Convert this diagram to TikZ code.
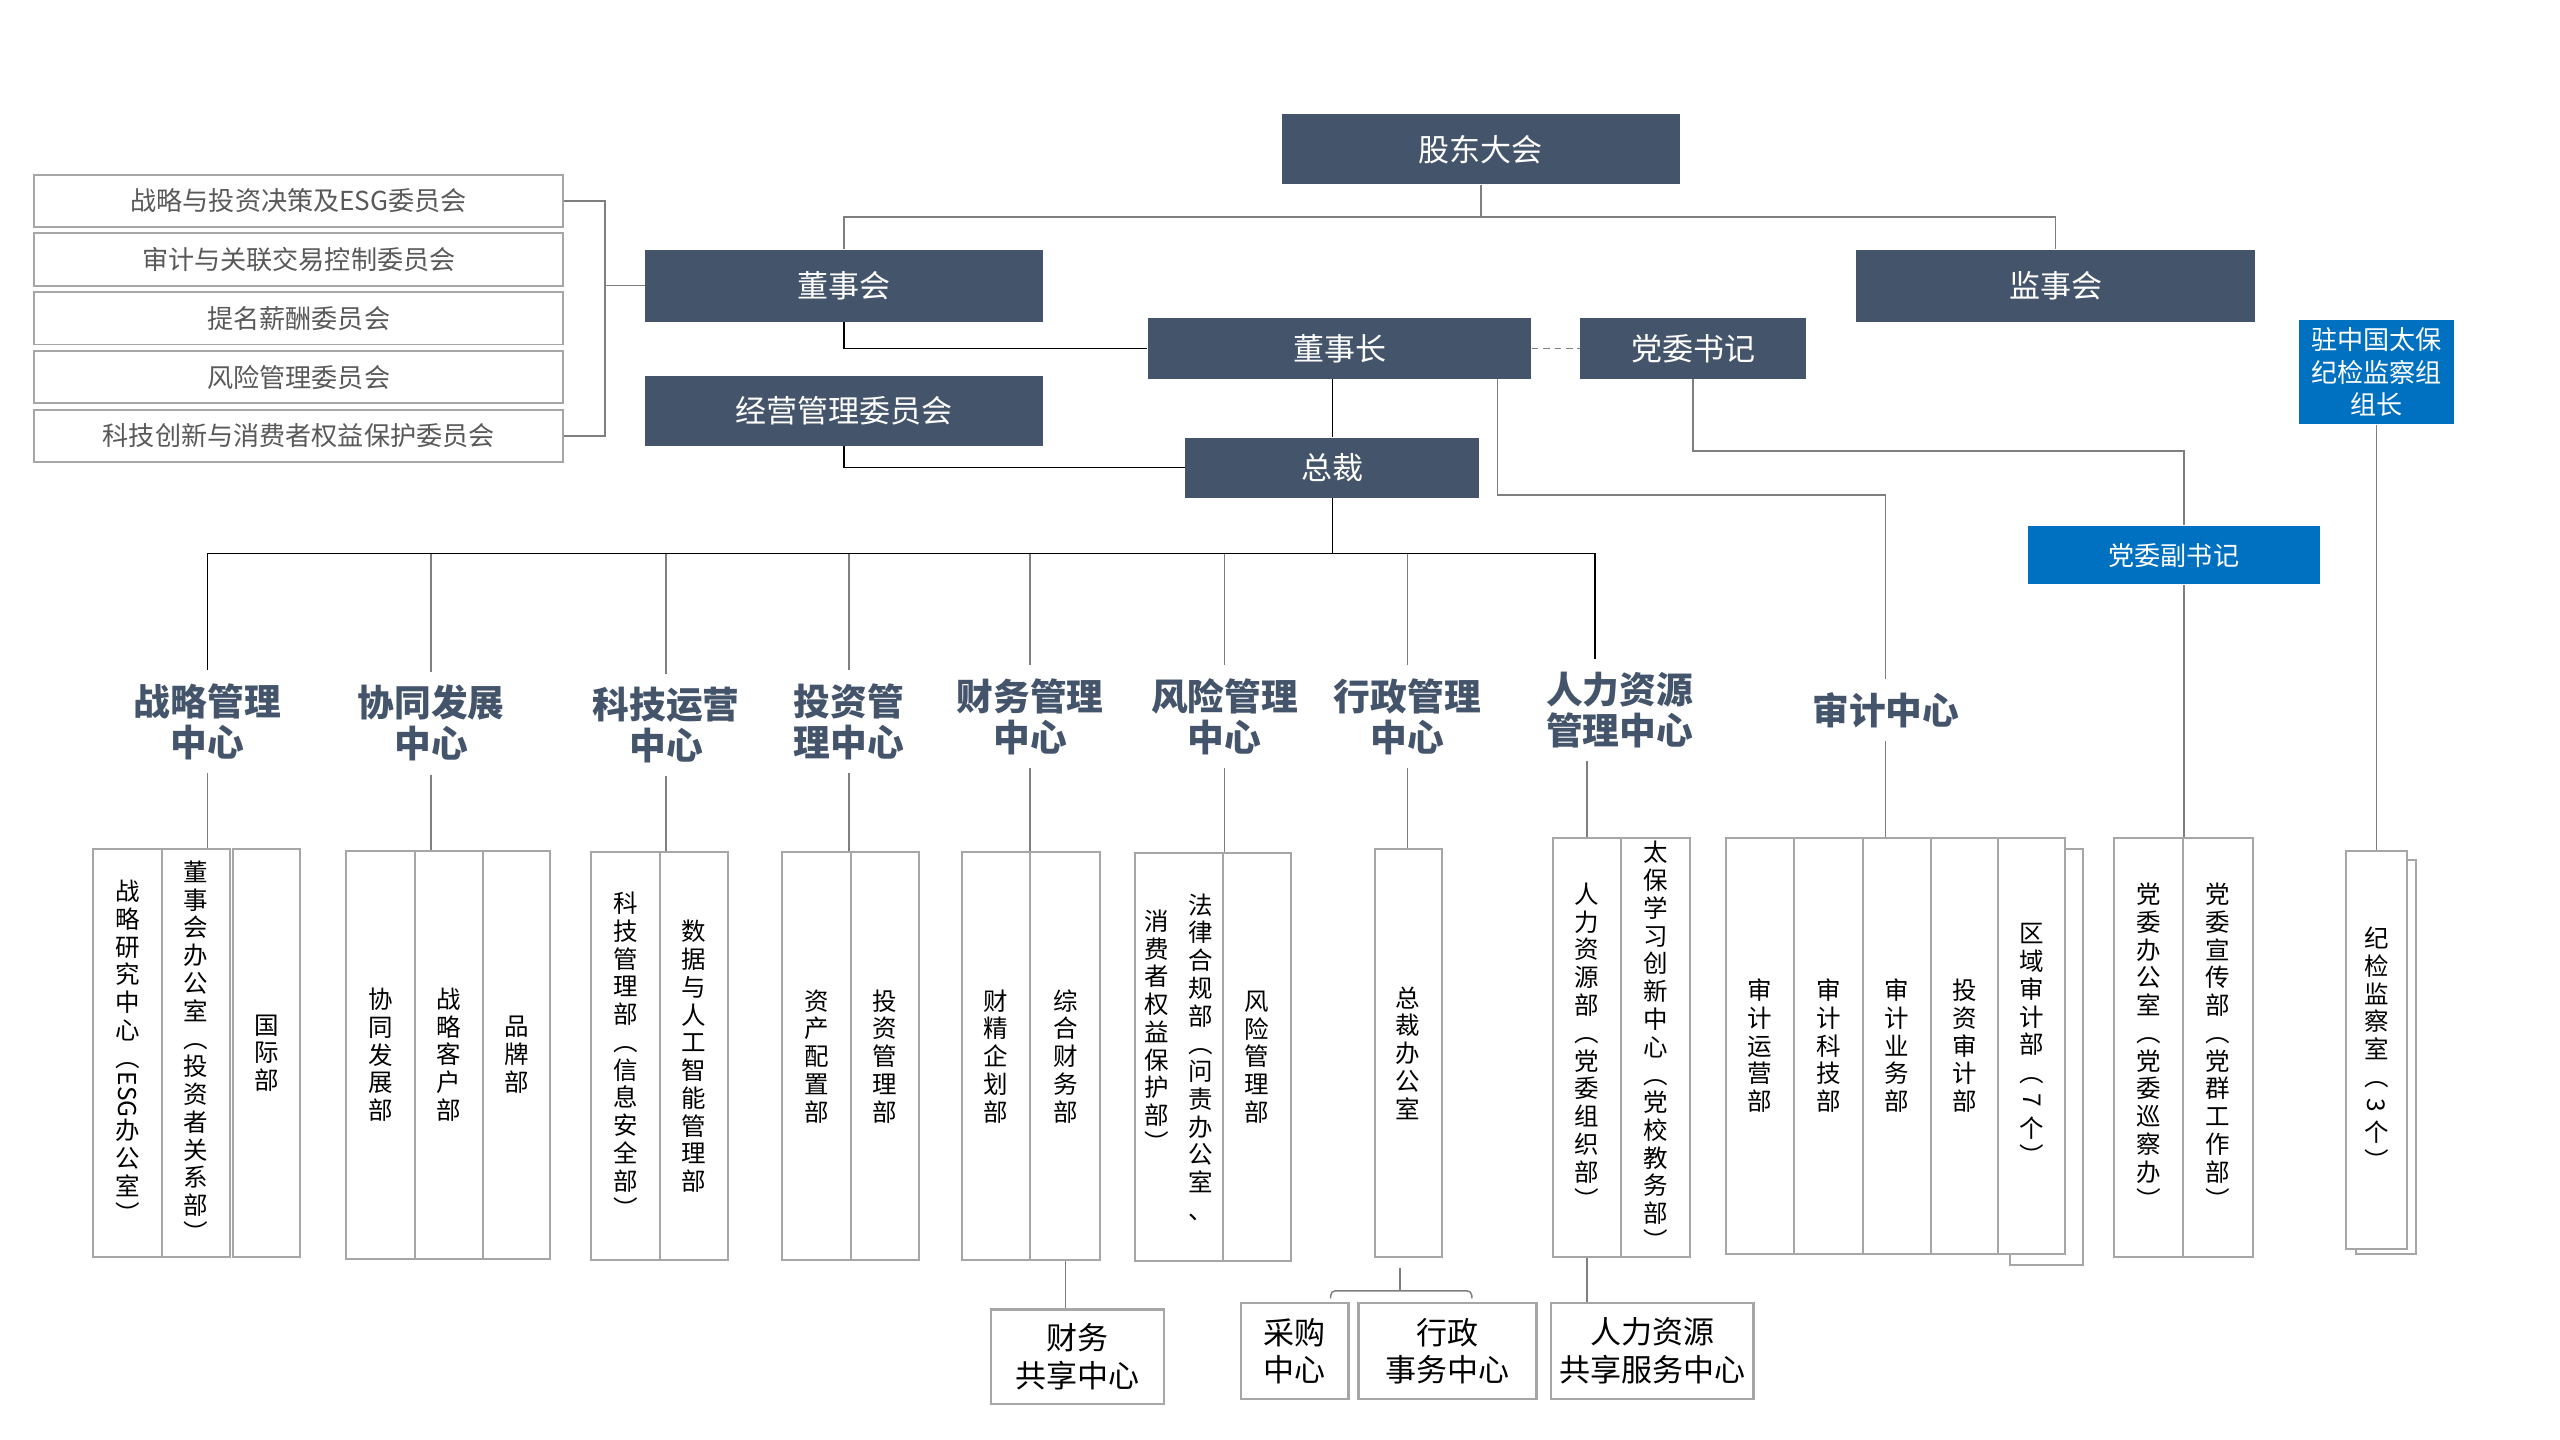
\documentclass[tikz,border=0pt]{standalone}
\usepackage{fontspec}
\setmainfont{Noto Sans CJK SC}

\definecolor{slate}{HTML}{44546A}
\definecolor{zblue}{HTML}{0070C0}
\definecolor{boxgray}{HTML}{A6A6A6}
\definecolor{linegray}{HTML}{7F7F7F}
\definecolor{txtgray}{HTML}{595959}

% vertical column of characters
\ExplSyntaxOn
\NewDocumentCommand \vcol { m }
  {
    \vtop
      {
        \baselineskip = 17pt
        \lineskip = 1pt
        \lineskiplimit = 0pt
        \tl_map_inline:nn {#1} { \hbox_to_wd:nn {16pt} { \hss ##1 \hss } }
      }
  }
\ExplSyntaxOff
\newcommand{\turn}[1]{\rotatebox[origin=c]{-90}{#1}}

\tikzset{
  lead/.style={fill=slate, text=white, inner sep=0pt, font=\fontsize{19}{22}\selectfont},
  party/.style={fill=zblue, text=white, inner sep=0pt, align=center, font=\fontsize{16}{20}\selectfont},
  cmte/.style={draw=boxgray, line width=1.2pt, text=txtgray, minimum width=324pt, minimum height=32pt, inner sep=0pt, font=\fontsize{16}{18}\selectfont},
  hub/.style={text=slate, align=center, inner sep=8pt, font=\fontsize{22.5}{25}\selectfont\bfseries},
  dept/.style={draw=boxgray, fill=white, line width=1.2pt, minimum width=42pt, minimum height=250pt, inner sep=0pt, font=\fontsize{15}{17}\selectfont},
  shared/.style={draw=boxgray, line width=1.5pt, align=center, inner sep=0pt, font=\fontsize{19}{23}\selectfont},
  kline/.style={black, line width=0.8pt},
  gline/.style={linegray, line width=0.9pt},
}

\begin{document}
\begin{tikzpicture}[x=1pt, y=-1pt]
        \fill[white] (0,0) rectangle (1568,882);
        \useasboundingbox (0,0) rectangle (1568,882);

        % governance
        \node[lead, minimum width=244pt, minimum height=43pt] (gd) at (907,91.5) {股东大会};
        \node[lead, minimum width=244pt, minimum height=44pt] (dsh) at (517,175) {董事会};
        \node[lead, minimum width=244pt, minimum height=44pt] (jsh) at (1259,175) {监事会};
        \node[lead, minimum width=235pt, minimum height=37pt] (dsz) at (820.5,213.5) {董事长};
        \node[lead, minimum width=138pt, minimum height=37pt] (dwsj) at (1037,213.5) {党委书记};
        \node[lead, minimum width=244pt, minimum height=43pt] (jy) at (517,251.5) {经营管理委员会};
        \node[lead, minimum width=180pt, minimum height=37pt] (zc) at (816,286.5) {总裁};
        \node[party, minimum width=95pt, minimum height=64pt] (jjz) at (1455.5,228) {驻中国太保\\纪检监察组\\组长};
        \node[party, minimum width=179pt, minimum height=36pt] (dwf) at (1331.5,340) {党委副书记};

        \foreach \name [count=\i] in {战略与投资决策及ESG委员会, 审计与关联交易控制委员会, 提名薪酬委员会, 风险管理委员会, 科技创新与消费者权益保护委员会}
          \node[cmte] (c\i) at (183,87+36*\i) {\name};

        % centres
        \node[hub] (l1) at (127,442) {战略管理\\中心};
        \node[hub] (l2) at (264,443) {协同发展\\中心};
        \node[hub] (l3) at (408,444) {科技运营\\中心};
        \node[hub] (l4) at (520,442) {投资管\\理中心};
        \node[hub] (l5) at (631,439) {财务管理\\中心};
        \node[hub] (l6) at (750,439) {风险管理\\中心};
        \node[hub] (l7) at (862,439) {行政管理\\中心};
        \node[hub] (l8) at (992,435) {人力资源\\管理中心};
        \node[hub] (l9) at (1155,435) {审计中心};

        % departments
        \node[dept] (d11) at (78,645) {\vcol{战略研究中心{\turn{（}}{\turn{ESG}}办公室{\turn{）}}}};
        \node[dept] (d12) at (120,645) {\vcol{董事会办公室{\turn{（}}投资者关系部{\turn{）}}}};
        \node[dept, minimum width=41pt] (d13) at (163.5,645) {\vcol{国际部}};

        \node[dept] (d21) at (233,646) {\vcol{协同发展部}};
        \node[dept] (d22) at (275,646) {\vcol{战略客户部}};
        \node[dept, minimum width=41pt] (d23) at (316.5,646) {\vcol{品牌部}};

        \node[dept] (d31) at (383,647) {\vcol{科技管理部{\turn{（}}信息安全部{\turn{）}}}};
        \node[dept] (d32) at (425,647) {\vcol{数据与人工智能管理部}};

        \node[dept] (d41) at (500,647) {\vcol{资产配置部}};
        \node[dept] (d42) at (542,647) {\vcol{投资管理部}};

        \node[dept] (d51) at (610,647) {\vcol{财精企划部}};
        \node[dept, minimum width=43pt] (d52) at (652.5,647) {\vcol{综合财务部}};

        \node[dept, minimum width=54pt] (d61) at (722,647.5) {\lower10pt\vcol{消费者权益保护部{\turn{）}}}\hspace{11pt}\vcol{法律合规部{\turn{（}}问责办公室、}};
        \node[dept] (d62) at (770,647.5) {\vcol{风险管理部}};

        \node[dept, minimum width=41pt] (d71) at (862.5,645) {\vcol{总裁办公室}};

        \node[dept, minimum height=257pt] (d81) at (972,641.5) {\vcol{人力资源部{\turn{（}}党委组织部{\turn{）}}}};
        \node[dept, minimum height=257pt] (d82) at (1014,641.5) {\vcol{太保学习创新中心{\turn{（}}党校教务部{\turn{）}}}};

        \node[dept, minimum width=45pt, minimum height=255pt] (sh9) at (1253.5,647.5) {};
        \node[dept, minimum height=255pt] (d91) at (1078,640.5) {\vcol{审计运营部}};
        \node[dept, minimum height=255pt] (d92) at (1120,640.5) {\vcol{审计科技部}};
        \node[dept, minimum height=255pt] (d93) at (1162,640.5) {\vcol{审计业务部}};
        \node[dept, minimum width=41pt, minimum height=255pt] (d94) at (1203.5,640.5) {\vcol{投资审计部}};
        \node[dept, minimum width=41pt, minimum height=255pt] (d95) at (1244.5,640.5) {\vcol{区域审计部{\turn{（}}{\turn{7}}个{\turn{）}}}};

        \node[dept, minimum height=257pt] (d101) at (1316,641.5) {\vcol{党委办公室{\turn{（}}党委巡察办{\turn{）}}}};
        \node[dept, minimum width=43pt, minimum height=257pt] (d102) at (1358.5,641.5) {\vcol{党委宣传部{\turn{（}}党群工作部{\turn{）}}}};

        \node[dept, minimum width=37pt, minimum height=241pt] (sh11) at (1461.5,647.5) {};
        \node[dept, minimum width=37pt, minimum height=244pt] (jx) at (1455.5,643) {\vcol{纪检监察室{\turn{（}}{\turn{3}}个{\turn{）}}}};

        % shared centres
        \node[shared, minimum width=106pt, minimum height=58pt] (fs) at (660,831) {财务\\共享中心};
        \node[shared, minimum width=66pt, minimum height=59pt] (pc) at (793,827.5) {采购\\中心};
        \node[shared, minimum width=109pt, minimum height=59pt] (xz) at (886.5,827.5) {行政\\事务中心};
        \node[shared, minimum width=124pt, minimum height=59pt] (hs) at (1012,827.5) {人力资源\\共享服务中心};

        % links at the top
        \coordinate (t1) at (907,133);
        \draw[gline] (gd.south) -- (t1);
        \draw[gline] (dsh.north) |- (t1) -| (jsh.north);
        \draw[gline] (c1.east) -- ++(25,0) coordinate (cb) -- (cb |- c5.east) -- (c5.east);
        \draw[gline] (dsh.west) -- (dsh.west -| cb);
        \draw[kline] (dsh.south) |- (dsz.west);
        \draw[kline] (jy.south) |- (zc.west);
        \draw[kline] (zc.north) -- (zc.north |- dsz.south);
        \draw[gline, dash pattern=on 4pt off 3pt] (dsz.east) -- (dwsj.west);
        \draw[gline] ([xshift=-21pt]dsz.south east) -- ++(0,71) -| (l9.north);
        \draw[gline] (dwsj.south) -- ++(0,44) -| (dwf.north -| d101.east);
        \draw[gline] (jjz.south) -- (jx.north);
        \draw[gline] (dwf.south -| d101.east) -- (d101.north east);

        % bus under the president
        \draw[kline] (zc.south) -- ++(0,34) coordinate (t2);
        \draw[kline] (l1.north) |- (t2) -| ([xshift=-15pt]l8.north);
        \foreach \n in {l2,l3,l4,l5,l6,l7}
          \draw[gline] (\n.north) -- (\n.north |- t2);

        % centres to departments
        \draw[gline] (l1.south) -- (l1.south |- d12.north);
        \draw[gline] (l2.south) -- (l2.south |- d22.north);
        \draw[gline] (l3.south) -- (l3.south |- d32.north);
        \draw[gline] (l4.south) -- (l4.south |- d42.north);
        \draw[gline] (l5.south) -- (l5.south |- d52.north);
        \draw[gline] (l6.south) -- (l6.south |- d62.north);
        \draw[gline] (l7.south) -- (l7.south |- d71.north);
        \draw[gline] (d81.north |- l8.south) -- (d81.north);
        \draw[gline] (l9.south) -- (l9.south |- d93.north);

        % shared centres
        \draw[gline] (d52.south) -- (d52.south |- fs.north);
        \draw[gline] (d81.south) -- (d81.south |- hs.north);
        \draw[gline] ([xshift=-5pt,yshift=-6pt]d71.south) -- ([xshift=-5pt,yshift=-20pt]d71.south) coordinate (br);
        \draw[gline, rounded corners=3pt] ([xshift=22pt,yshift=2pt]pc.north) |- (br) -| ([xshift=15pt,yshift=2pt]xz.north);
\end{tikzpicture}
\end{document}
